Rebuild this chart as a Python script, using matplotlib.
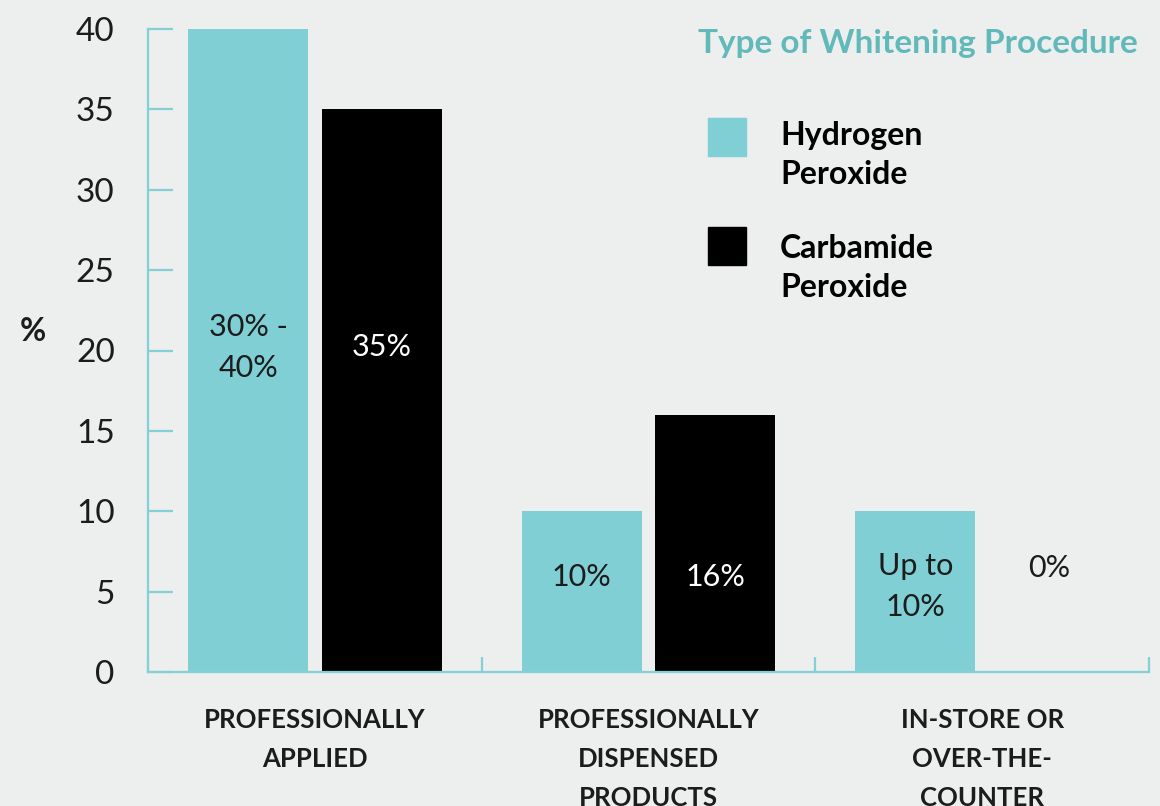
import matplotlib
matplotlib.use("Agg")
import matplotlib.pyplot as plt
import matplotlib.patches as mpatches
import numpy as np

plt.rcParams['font.family'] = ['Lato', 'DejaVu Sans']

categories = ['PROFESSIONALLY\nAPPLIED', 'PROFESSIONALLY\nDISPENSED\nPRODUCTS', 'IN-STORE OR\nOVER-THE-\nCOUNTER']
hydrogen = [40, 10, 10]
carbamide = [35, 16, 0]
hydrogen_labels = ['30% -\n40%', '10%', 'Up to\n10%']
carbamide_labels = ['35%', '16%', '0%']
label_y = [20.2, 5.9, 5.3]          # where the value text sits in each group
carb_label_y = [20.2, 5.9, 6.5]
yticks = [0, 5, 10, 15, 20, 25, 30, 35, 40]

bg = '#edeeee'
cyan = '#80cfd4'
axis_col = '#85d0d4'
title_col = '#62b9ba'
txt = '#1c1c1c'

fig = plt.figure(figsize=(11.6, 8.06), dpi=100, facecolor=bg)
ax = fig.add_axes([148/1160, 1-672/806, 1001/1160, 643/806])
ax.set_facecolor(bg)

x = np.arange(len(categories)) + 0.5
w = 0.36
ax.bar(x - 0.2, hydrogen, w, color=cyan, zorder=2)
ax.bar(x + 0.2, carbamide, w, color='black', zorder=2)

for i in range(len(categories)):
    ax.text(x[i] - 0.2, label_y[i], hydrogen_labels[i], ha='center', va='center',
            fontsize=22, color=txt, linespacing=1.55, zorder=3)
    ax.text(x[i] + 0.2, carb_label_y[i], carbamide_labels[i], ha='center', va='center',
            fontsize=22, color='white' if carbamide[i] > 0 else txt, zorder=3)

ax.set_xlim(0, 3)
ax.set_ylim(0, 40)

for s in ['top', 'right']:
    ax.spines[s].set_visible(False)
for s in ['left', 'bottom']:
    ax.spines[s].set_color(axis_col)
    ax.spines[s].set_linewidth(1.6)

ax.set_yticks(yticks)
ax.set_yticklabels([str(v) for v in yticks], fontsize=24, color=txt)
ax.tick_params(axis='y', direction='in', length=18, width=1.6, color=axis_col, pad=24)

ax.set_xticks([0, 1, 2, 3])
ax.set_xticklabels([])
ax.tick_params(axis='x', which='major', direction='in', length=11, width=1.6, color=axis_col)
ax.set_xticks(x, categories, minor=True)
ax.tick_params(axis='x', which='minor', length=0, pad=26)
for t in ax.get_xticklabels(minor=True):
    t.set_fontsize(18.5)
    t.set_fontweight('bold')
    t.set_color(txt)
    t.set_linespacing(1.75)
    t.set_ha('center')

ax.set_ylabel('%', rotation=0, fontsize=23, fontweight='bold', color=txt)
ax.yaxis.set_label_coords(-0.115, 0.507)

# legend
fig.text(1138/1160, 1-43/806, 'Type of Whitening Procedure', ha='right', va='center',
         fontsize=24, fontweight='bold', color=title_col)
fig.patches.append(mpatches.Rectangle((708/1160, 1-156/806), 38/1160, 38/806,
                                      transform=fig.transFigure, color=cyan))
fig.patches.append(mpatches.Rectangle((708/1160, 1-265/806), 38/1160, 38/806,
                                      transform=fig.transFigure, color='black'))
fig.text(780/1160, 1-155/806, 'Hydrogen\nPeroxide', ha='left', va='center',
         fontsize=23, fontweight='bold', color='black', linespacing=1.4)
fig.text(780/1160, 1-268/806, 'Carbamide\nPeroxide', ha='left', va='center',
         fontsize=23, fontweight='bold', color='black', linespacing=1.4)

fig.savefig('out.png', dpi=100, facecolor=bg)
